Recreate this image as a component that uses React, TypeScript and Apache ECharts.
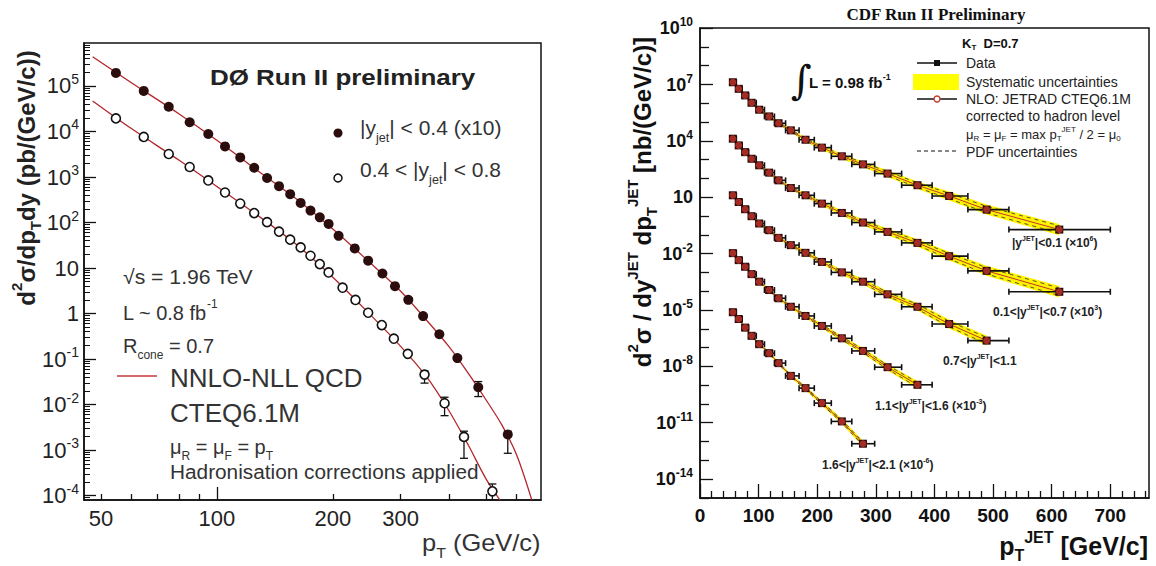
import React, { useEffect, useRef } from "react";
import * as echarts from "echarts";

const SANS = '"Liberation Sans", Arial, Helvetica, sans-serif';
const SERIF = '"Liberation Serif", "Times New Roman", serif';

// ---------------- Left panel (DØ Run II) ----------------
const d0PtCentral = [54.7, 64.6, 75, 85, 95, 105, 115, 125, 135, 145, 155, 165, 175, 185, 195, 207, 228, 247, 269, 290, 314, 343, 378, 421, 477, 569];
const d0XsCentral = [1.94e5, 7.8e4, 3.5e4, 1.6e4, 8.8e3, 4.7e3, 2.7e3, 1.6e3, 950, 630, 420, 270, 183, 130, 93, 51, 27, 14.5, 7.6, 4.0, 2.0, 0.88, 0.35, 0.105, 0.024, 2.2e-3];
const d0PtForward = [54.7, 64.6, 75, 85, 95, 105, 115, 125, 135, 145, 155, 165, 175, 185, 195, 212, 229, 247, 268, 288, 313, 346, 390, 438, 519];
const d0XsForward = [1.94e4, 7.6e3, 3.2e3, 1.66e3, 841, 457, 261, 161, 102, 63, 42, 28.4, 18.6, 12.2, 8.0, 3.7, 1.99, 1.04, 0.557, 0.28, 0.13, 0.0455, 0.0107, 1.95e-3, 1.24e-4];
const d0ErrCentral = [[477, 0.015, 0.032], [569, 8.5e-4, 2.6e-3]];
const d0ErrForward = [[346, 0.0296, 0.055], [390, 5.7e-3, 0.0145], [438, 6.6e-4, 2.6e-3], [519, 8.1e-5, 1.8e-4]];
const d0TheoryPtCentral = [47.6, 60, 80, 100, 130, 160, 200, 250, 300, 350, 400, 450, 500, 550, 600, 657];
const d0TheoryCentral = [4.4e5, 1.18e5, 2.4e4, 6.4e3, 1.23e3, 340, 72, 13, 3.1, 0.72, 0.19, 0.048, 0.0126, 3.5e-3, 7.8e-4, 8e-5];
const d0TheoryPtForward = [47.6, 60, 80, 100, 130, 160, 200, 250, 300, 350, 400, 450, 500, 543];
const d0TheoryForward = [4.7e4, 1.16e4, 2.3e3, 620, 128, 34, 6.3, 0.95, 0.19, 0.041, 7.4e-3, 1.26e-3, 2.3e-4, 8e-5];
const d0XLabels = [50, 100, 200, 300];
const d0XMajorTicks = [100];
const d0XMinorTicks = [50, 60, 70, 80, 90, 200, 300, 400, 500, 600];
const d0YDecades = [1e-4, 1e-3, 1e-2, 1e-1, 1, 10, 1e2, 1e3, 1e4, 1e5];

// ---------------- Right panel (CDF Run II) ----------------
const cdfBinEdges = [54, 62, 72, 83, 96, 110, 127, 146, 169, 195, 224, 259, 298, 344, 396, 457, 527, 700];
const cdfPt = [56, 66, 77, 88, 101, 118, 134, 155, 180, 208, 242, 278, 320, 371, 425, 489, 613];
const cdfY01 = [1.32e7, 5.9e6, 2.63e6, 1.07e6, 4.57e5, 2.0e5, 8.7e4, 3.63e4, 1.15e4, 4.37e3, 1.51e3, 562, 182, 43.7, 11.7, 2.2, 0.19];
const cdfY0107 = [1.31e4, 5.75e3, 2.51e3, 1.12e3, 501, 204, 79.4, 30.9, 12.7, 4.57, 1.46, 0.452, 0.143, 0.0372, 7.3e-3, 1.21e-3, 9.3e-5];
const cdfY0711 = [12.7, 5.6, 2.3, 0.98, 0.4, 0.176, 0.0687, 0.0282, 0.011, 3.6e-3, 1.0e-3, 3.2e-4, 6.8e-5, 1.48e-5, 1.78e-6, 2.34e-7];
const cdfY1116 = [0.0106, 4.5e-3, 2.0e-3, 8.1e-4, 3.2e-4, 1.15e-4, 4.2e-5, 1.48e-5, 4.8e-6, 1.41e-6, 3.1e-7, 6.6e-8, 9.0e-9, 1.04e-9];
const cdfY1621 = [7.6e-6, 3.3e-6, 1.15e-6, 4.2e-7, 1.51e-7, 5.0e-8, 1.48e-8, 3.1e-9, 6.9e-10, 1.1e-10, 1.17e-11, 7.6e-13];
const cdfSysRel = [0.15, 0.15, 0.16, 0.17, 0.18, 0.2, 0.22, 0.25, 0.28, 0.32, 0.37, 0.43, 0.5, 0.6, 0.72, 0.85, 1.0];
const cdfPdfRel = [0.07, 0.07, 0.08, 0.08, 0.09, 0.1, 0.11, 0.13, 0.15, 0.17, 0.2, 0.24, 0.28, 0.34, 0.4, 0.48, 0.6];
const cdfXLabels = [0, 100, 200, 300, 400, 500, 600, 700];
const cdfYLabels = [1e-14, 1e-11, 1e-8, 1e-5, 1e-2, 10, 1e4, 1e7, 1e10];

const cdfXMinorTicks: number[] = [];
for (let v = 20; v < 770; v += 20) if (v % 100 !== 0) cdfXMinorTicks.push(v);
const cdfYMinorTicks: number[] = [];
for (let e = -15; e <= 10; e++) if ((e + 14) % 3 !== 0) cdfYMinorTicks.push(Math.pow(10, e));
const d0YMinorTicks: number[] = [];
for (let e = -5; e <= 5; e++) for (let m = 2; m <= 9; m++) {
  const v = m * Math.pow(10, e);
  if (v > 8.1e-5 && v < 8.7e5) d0YMinorTicks.push(v);
}

const zip = (a: number[], b: number[]) => a.map((x, i) => [x, b[i]]);

const powLabel = (v: number) => {
  const e = Math.round(Math.log10(v));
  if (e === 0) return "1";
  if (e === 1) return "10";
  return "10{sup|" + e + "}";
};

const rich = (size: number, bold = false, color = "#222") => ({
  sup: { fontSize: Math.round(size * 0.62), verticalAlign: "top", fontFamily: SANS, fontWeight: bold ? "bold" : "normal", color, fill: color },
  sub: { fontSize: Math.round(size * 0.62), verticalAlign: "bottom", fontFamily: SANS, fontWeight: bold ? "bold" : "normal", color, fill: color },
});

const txt = (x: number, y: number, text: string, size: number, o: any = {}) => ({
  type: "text",
  x,
  y,
  rotation: o.rotation || 0,
  scaleX: o.scaleX || 1,
  z: 100,
  style: {
    text,
    fontSize: size,
    fontFamily: o.family || SANS,
    fontWeight: o.bold ? "bold" : "normal",
    fill: o.fill || "#222",
    align: o.align || "left",
    verticalAlign: "middle",
    lineHeight: o.lineHeight || Math.round(size * 1.5),
    rich: rich(size, !!o.bold, o.fill || "#222"),
  },
});

export default function App() {
  const ref = useRef<HTMLDivElement>(null);
  useEffect(() => {
    if (!ref.current) return;
    const chart = echarts.init(ref.current, undefined, { renderer: "svg" });

    const series: any[] = [];
    // ---- left panel ----
    series.push({
      type: "line", xAxisIndex: 0, yAxisIndex: 0, data: zip(d0TheoryPtCentral, d0TheoryCentral),
      smooth: 0.3, symbol: "none", lineStyle: { color: "#b3262a", width: 1.3 }, z: 2,
    });
    series.push({
      type: "line", xAxisIndex: 0, yAxisIndex: 0, data: zip(d0TheoryPtForward, d0TheoryForward),
      smooth: 0.3, symbol: "none", lineStyle: { color: "#b3262a", width: 1.3 }, z: 2,
    });
    const errRender = (params: any, api: any) => {
      const x = api.value(0);
      const a = api.coord([x, api.value(1)]);
      const b = api.coord([x, api.value(2)]);
      const st = { stroke: "#111", lineWidth: 1.3 };
      return {
        type: "group",
        children: [
          { type: "line", shape: { x1: a[0], y1: a[1], x2: b[0], y2: b[1] }, style: st },
          { type: "line", shape: { x1: a[0] - 4, y1: a[1], x2: a[0] + 4, y2: a[1] }, style: st },
          { type: "line", shape: { x1: b[0] - 4, y1: b[1], x2: b[0] + 4, y2: b[1] }, style: st },
        ],
      };
    };
    [d0ErrCentral, d0ErrForward].forEach((d) =>
      series.push({ type: "custom", xAxisIndex: 0, yAxisIndex: 0, data: d, encode: { x: 0, y: [1, 2] }, renderItem: errRender, z: 3 })
    );
    series.push({
      type: "scatter", xAxisIndex: 0, yAxisIndex: 0, data: zip(d0PtCentral, d0XsCentral),
      symbol: "circle", symbolSize: 10, itemStyle: { color: "#2b0d0d", opacity: 1 }, z: 4,
    });
    series.push({
      type: "scatter", xAxisIndex: 0, yAxisIndex: 0, data: zip(d0PtForward, d0XsForward),
      symbol: "circle", symbolSize: 9, itemStyle: { color: "#fff", borderColor: "#111", borderWidth: 1.6, opacity: 1 }, z: 4,
    });

    // ---- right panel ----
    const cdfSets = [cdfY01, cdfY0107, cdfY0711, cdfY1116, cdfY1621];
    cdfSets.forEach((vals) => {
      const pts = vals.map((v, i) => [cdfPt[i], v * (1 + cdfSysRel[i]), v / (1 + cdfSysRel[i])]);
      series.push({
        type: "custom", xAxisIndex: 2, yAxisIndex: 2, data: pts, encode: { x: 0, y: [1, 2] }, z: 1,
        renderItem: (params: any, api: any) => {
          if (params.dataIndex !== 0) return null;
          const up = pts.map((p) => api.coord([p[0], p[1]]));
          const lo = pts.map((p) => api.coord([p[0], p[2]])).reverse();
          return { type: "polygon", shape: { points: up.concat(lo) }, style: { fill: "#fff200" } };
        },
      });
      series.push({
        type: "line", xAxisIndex: 2, yAxisIndex: 2, symbol: "none", z: 2,
        data: vals.map((v, i) => [cdfPt[i], v * (1 + cdfPdfRel[i])]),
        lineStyle: { color: "#444", width: 0.9, type: [4, 4] },
      });
      series.push({
        type: "line", xAxisIndex: 2, yAxisIndex: 2, symbol: "none", z: 2,
        data: vals.map((v, i) => [cdfPt[i], v / (1 + cdfPdfRel[i])]),
        lineStyle: { color: "#444", width: 0.9, type: [4, 4] },
      });
      series.push({
        type: "line", xAxisIndex: 2, yAxisIndex: 2, symbol: "none", z: 3,
        data: zip(cdfPt.slice(0, vals.length), vals),
        lineStyle: { color: "#c0392b", width: 1 },
      });
      series.push({
        type: "custom", xAxisIndex: 2, yAxisIndex: 2, z: 4,
        data: vals.map((v, i) => [cdfBinEdges[i], cdfBinEdges[i + 1], v]),
        encode: { x: [0, 1], y: 2 },
        renderItem: (params: any, api: any) => {
          const a = api.coord([api.value(0), api.value(2)]);
          const b = api.coord([api.value(1), api.value(2)]);
          const st = { stroke: "#111", lineWidth: 1.6 };
          return {
            type: "group",
            children: [
              { type: "line", shape: { x1: a[0], y1: a[1], x2: b[0], y2: b[1] }, style: st },
              { type: "line", shape: { x1: a[0], y1: a[1] - 3, x2: a[0], y2: a[1] + 3 }, style: st },
              { type: "line", shape: { x1: b[0], y1: b[1] - 3, x2: b[0], y2: b[1] + 3 }, style: st },
            ],
          };
        },
      });
      series.push({
        type: "scatter", xAxisIndex: 2, yAxisIndex: 2, z: 5, data: zip(cdfPt.slice(0, vals.length), vals),
        symbol: "rect", symbolSize: 8, itemStyle: { color: "#2a0808", opacity: 1 },
      });
      series.push({
        type: "scatter", xAxisIndex: 2, yAxisIndex: 2, z: 6, data: zip(cdfPt.slice(0, vals.length), vals),
        symbol: "circle", symbolSize: 7, itemStyle: { color: "#b8322a", opacity: 0.85 },
      });
    });

    const axisLine = { show: true, lineStyle: { color: "#111", width: 1.5 } };
    const noLine = { show: false };

    const graphic: any[] = [
      // left panel annotations
      txt(210, 77, "DØ Run II preliminary", 22, { bold: true, scaleX: 1.18 }),
      { type: "circle", shape: { cx: 338, cy: 133, r: 4.5 }, style: { fill: "#2b0d0d" }, z: 100 },
      txt(360, 128, "|y{sub|jet}| < 0.4 (x10)", 20, { fill: "#333", lineHeight: 32, scaleX: 1.05 }),
      { type: "circle", shape: { cx: 338, cy: 178, r: 4 }, style: { fill: "#fff", stroke: "#111", lineWidth: 1.5 }, z: 100 },
      txt(360, 170, "0.4 < |y{sub|jet}| < 0.8", 20, { fill: "#333", lineHeight: 32, scaleX: 1.05 }),
      txt(123, 277, "√s = 1.96 TeV", 20, { fill: "#333", scaleX: 1.06 }),
      txt(123, 313, "L ~ 0.8 fb{sup|-1}", 20, { fill: "#333", lineHeight: 30 }),
      txt(123, 346, "R{sub|cone} = 0.7", 20, { fill: "#333", lineHeight: 30 }),
      { type: "line", shape: { x1: 117, y1: 376, x2: 157, y2: 376 }, style: { stroke: "#c8373a", lineWidth: 1.5 }, z: 100 },
      txt(170, 378, "NNLO-NLL QCD", 26, { fill: "#333" }),
      txt(170, 413, "CTEQ6.1M", 26, { fill: "#333" }),
      txt(170, 447, "μ{sub|R} = μ{sub|F} = p{sub|T}", 20, { fill: "#333", lineHeight: 30 }),
      txt(170, 472, "Hadronisation corrections applied", 20, { fill: "#333", scaleX: 1.04 }),
      txt(422, 543, "p{sub|T} (GeV/c)", 24, { fill: "#333", lineHeight: 34, scaleX: 1.06 }),
      txt(26, 178, "d{sup|2}σ/dp{sub|T}dy (pb/(GeV/c))", 24, { bold: true, align: "center", rotation: Math.PI / 2, lineHeight: 34 }),

      // right panel annotations
      txt(936, 14, "CDF Run II Preliminary", 17, { bold: true, align: "center", family: SERIF, fill: "#111", lineHeight: 20 }),
      txt(791, 80, "∫", 40, { family: '"DejaVu Serif", serif', fill: "#111", lineHeight: 46 }),
      txt(809, 82, "L = 0.98 fb{sup|-1}", 15, { bold: true, fill: "#111", lineHeight: 20 }),
      txt(962, 43, "K{sub|T}  D=0.7", 13, { bold: true, fill: "#111", lineHeight: 17 }),
      { type: "line", shape: { x1: 917, y1: 63, x2: 957, y2: 63 }, style: { stroke: "#111", lineWidth: 1.5 }, z: 100 },
      { type: "rect", shape: { x: 934, y: 60, width: 6, height: 6 }, style: { fill: "#111" }, z: 101 },
      txt(966, 63, "Data", 14, { fill: "#222", lineHeight: 16 }),
      { type: "rect", shape: { x: 913, y: 74, width: 46, height: 16 }, style: { fill: "#ffff00" }, z: 100 },
      txt(966, 82, "Systematic uncertainties", 14, { fill: "#222", lineHeight: 16 }),
      { type: "line", shape: { x1: 917, y1: 99, x2: 957, y2: 99 }, style: { stroke: "#111", lineWidth: 1.5 }, z: 100 },
      { type: "circle", shape: { cx: 937, cy: 99, r: 3 }, style: { fill: "#fff", stroke: "#c0392b", lineWidth: 1.4 }, z: 101 },
      txt(966, 99, "NLO: JETRAD CTEQ6.1M", 14, { fill: "#222", lineHeight: 16 }),
      txt(966, 116, "corrected to hadron level", 14, { fill: "#222", lineHeight: 16 }),
      txt(966, 134, "μ{sub|R} = μ{sub|F} = max p{sub|T}{sup|JET} / 2 = μ{sub|0}", 13, { fill: "#222", lineHeight: 17 }),
      { type: "line", shape: { x1: 917, y1: 151, x2: 957, y2: 151 }, style: { stroke: "#111", lineWidth: 1.2, lineDash: [4, 3] }, z: 100 },
      txt(966, 152, "PDF uncertainties", 14, { fill: "#222", lineHeight: 16 }),
      txt(1012, 243, "|y{sup|JET}|<0.1 (×10{sup|6})", 12, { bold: true, fill: "#222", lineHeight: 16 }),
      txt(993, 312, "0.1<|y{sup|JET}|<0.7 (×10{sup|3})", 12, { bold: true, fill: "#222", lineHeight: 16 }),
      txt(943, 361, "0.7<|y{sup|JET}|<1.1", 12, { bold: true, fill: "#222", lineHeight: 16 }),
      txt(875, 406, "1.1<|y{sup|JET}|<1.6 (×10{sup|-3})", 12, { bold: true, fill: "#222", lineHeight: 16 }),
      txt(822, 465, "1.6<|y{sup|JET}|<2.1 (×10{sup|-6})", 12, { bold: true, fill: "#222", lineHeight: 16 }),
      txt(1148, 546, "p{sub|T}{sup|JET} [GeV/c]", 25, { bold: true, align: "right", fill: "#111", lineHeight: 34 }),
      txt(642, 202, "d{sup|2}σ / dy{sup|JET} dp{sub|T}{sup|JET} [nb/(GeV/c)]", 24, { bold: true, align: "center", rotation: Math.PI / 2, fill: "#111", lineHeight: 34 }),
    ];

    const option: any = {
      animation: false,
      backgroundColor: "#fff",
      grid: [
        { left: 84, top: 43, width: 457, height: 457, show: true, borderColor: "#111", borderWidth: 1.5 },
        { left: 700, top: 28, width: 449, height: 470, show: true, borderColor: "#111", borderWidth: 1.5 },
      ],
      xAxis: [
        {
          type: "log", gridIndex: 0, min: 45.2, max: 694, position: "bottom", axisLine,
          splitLine: { show: false },
          axisTick: { show: true, inside: true, length: 13, customValues: d0XMajorTicks, lineStyle: { color: "#111", width: 1.3 } },
          axisLabel: { customValues: d0XLabels, fontSize: 22, fontFamily: SANS, color: "#222", margin: 7 },
        },
        {
          type: "log", gridIndex: 0, min: 45.2, max: 694, position: "bottom", axisLine: noLine,
          splitLine: { show: false },
          axisTick: { show: true, inside: true, length: 6, customValues: d0XMinorTicks, lineStyle: { color: "#111", width: 1.3 } },
          axisLabel: { show: false },
        },
        {
          type: "value", gridIndex: 1, min: 0, max: 766, position: "bottom", axisLine,
          splitLine: { show: false },
          axisTick: { show: true, inside: true, length: 14, customValues: cdfXLabels, lineStyle: { color: "#111", width: 1.3 } },
          axisLabel: { customValues: cdfXLabels, fontSize: 19, fontWeight: "bold", fontFamily: SANS, color: "#111", margin: 8 },
        },
        {
          type: "value", gridIndex: 1, min: 0, max: 766, position: "bottom", axisLine: noLine,
          splitLine: { show: false },
          axisTick: { show: true, inside: true, length: 7, customValues: cdfXMinorTicks, lineStyle: { color: "#111", width: 1.3 } },
          axisLabel: { show: false },
        },
      ],
      yAxis: [
        {
          type: "log", gridIndex: 0, min: 8e-5, max: 8.8e5, position: "left", axisLine,
          splitLine: { show: false },
          axisTick: { show: true, inside: true, length: 12, customValues: d0YDecades, lineStyle: { color: "#111", width: 1.3 } },
          axisLabel: {
            customValues: d0YDecades, formatter: powLabel, fontSize: 22, fontFamily: SANS, color: "#222", margin: 5, lineHeight: 28,
            rich: { sup: { fontSize: 14, verticalAlign: "top", fontFamily: SANS, color: "#222", lineHeight: 14 } },
          },
        },
        {
          type: "log", gridIndex: 0, min: 8e-5, max: 8.8e5, position: "left", axisLine: noLine,
          splitLine: { show: false },
          axisTick: { show: true, inside: true, length: 6, customValues: d0YMinorTicks, lineStyle: { color: "#111", width: 1 } },
          axisLabel: { show: false },
        },
        {
          type: "log", gridIndex: 1, min: 0.98e-15, max: 1.02e10, position: "left", axisLine,
          splitLine: { show: false },
          axisTick: { show: true, inside: true, length: 13, customValues: cdfYLabels, lineStyle: { color: "#111", width: 1.3 } },
          axisLabel: {
            customValues: cdfYLabels, formatter: powLabel, fontSize: 18, fontWeight: "bold", fontFamily: SANS, color: "#111", margin: 7, lineHeight: 24,
            rich: { sup: { fontSize: 12, fontWeight: "bold", verticalAlign: "top", fontFamily: SANS, color: "#111", lineHeight: 12 } },
          },
        },
        {
          type: "log", gridIndex: 1, min: 0.98e-15, max: 1.02e10, position: "left", axisLine: noLine,
          splitLine: { show: false },
          axisTick: { show: true, inside: true, length: 9, customValues: cdfYMinorTicks, lineStyle: { color: "#111", width: 1.3 } },
          axisLabel: { show: false },
        },
      ],
      series,
      graphic,
    };
    chart.setOption(option);
    return () => chart.dispose();
  }, []);

  return (
    <div
      ref={ref}
      style={{ position: "absolute", left: 0, top: 0, width: 1156, height: 566, background: "#fff" }}
    />
  );
}
